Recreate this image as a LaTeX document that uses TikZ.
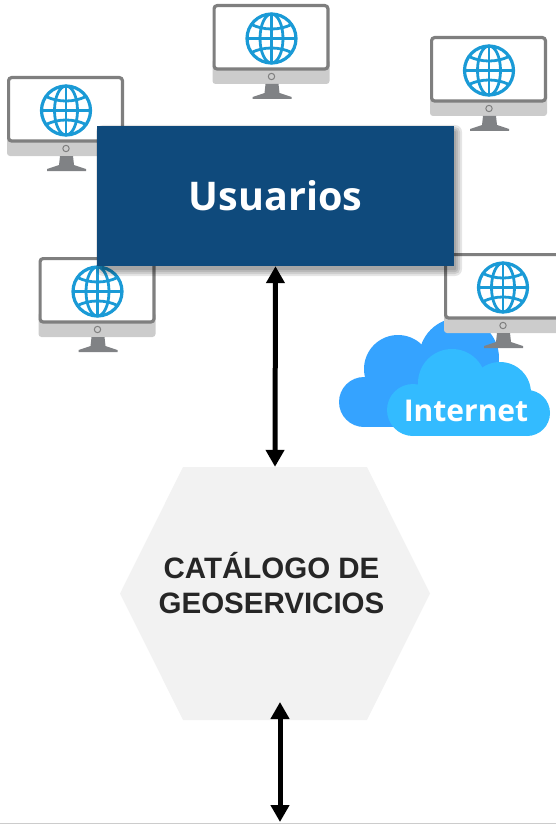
\documentclass[tikz,border=0pt]{standalone}
\usepackage{fontspec}
\setmainfont{Liberation Sans}
\newfontfamily\boxfont{Open Sans}
\usetikzlibrary{arrows.meta,shapes.symbols}
\definecolor{boxblue}{HTML}{0F4A7C}
\definecolor{globeblue}{HTML}{1A9AD6}
\definecolor{cloudback}{HTML}{35A3FF}
\definecolor{cloudfront}{HTML}{33BBFF}
\definecolor{hexgray}{HTML}{F2F2F2}
\definecolor{framegray}{HTML}{7F7F7F}
\definecolor{chingray}{HTML}{CCCCCC}
\definecolor{standgray}{HTML}{808285}
\newcommand{\monitor}[2]{
  \begin{scope}[shift={(#1,#2)}]
    \fill[chingray,rounded corners=3pt] (0,55) rectangle (117,80);
    \draw[framegray,line width=3.2pt,fill=white,rounded corners=3pt] (1.6,1.6) rectangle (115.4,65);
    \draw[framegray,line width=1pt] (59,72.5) circle (3.2);
    \fill[standgray] (53,80) -- (66,80) -- (67,89) -- (79,93) -- (79,95) -- (40,95) -- (40,93) -- (52,89) -- cycle;
    \begin{scope}[shift={(59,34.5)},globeblue,line width=2.8pt]
      \draw[line width=3.2pt] (0,0) circle (24.5);
      \draw (0,0) ellipse (11.5 and 24.5);
      \draw (0,-24.5) -- (0,24.5);
      \draw (-24.5,0) -- (24.5,0);
      \draw (-20,-14) .. controls (-8,-8) and (8,-8) .. (20,-14);
      \draw (-20,14) .. controls (-8,8) and (8,8) .. (20,14);
    \end{scope}
  \end{scope}
}
\tikzset{
  user box/.style={fill=boxblue,minimum width=357pt,minimum height=140pt,inner sep=0pt,
    text=white,font=\boxfont\bfseries\fontsize{39.5}{44}\selectfont},
  hex box/.style={shape=signal,signal to=east and west,signal pointer angle=127,fill=hexgray,
    minimum width=310pt,minimum height=253pt,inner sep=0pt},
  hex label/.style={align=center,text=black!85,inner sep=0pt,font=\bfseries\fontsize{29.5}{35}\selectfont},
  cloud label/.style={text=white,inner sep=0pt,font=\boxfont\bfseries\fontsize{30}{36}\selectfont},
  link/.style={{Triangle[length=17pt,width=18pt]}-{Triangle[length=17pt,width=18pt]},line width=5pt,black},
}
\begin{document}
\begin{tikzpicture}[x=1pt,y=-1pt]
  \useasboundingbox (0,0) rectangle (556,824);
  \draw[chingray,line width=1pt] (0,823.5) -- (556,823.5);

  % back cloud
  \fill[cloudback] (364,402) circle (25);
  \fill[cloudback] (398,369) circle (34);
  \fill[cloudback] (459,358) circle (40);
  \fill[cloudback] (364,390) rectangle (470,427);
  % front cloud
  \fill[cloudfront] (413,410) circle (26);
  \fill[cloudfront] (452,383) circle (34);
  \fill[cloudfront] (500,393) circle (31);
  \fill[cloudfront] (527,413) circle (23);
  \fill[cloudfront] (413,400) rectangle (527,436);
  \node[cloud label] (internet) at (466,411) {Internet};

  \monitor{7}{76}
  \monitor{212.5}{4}
  \monitor{430}{36}
  \monitor{38.5}{257}
  \monitor{444}{253}

  % soft shadow of the box
  \foreach \r in {7,5,3,1}
    \fill[black,opacity=.1,rounded corners=\r pt] (103-\r,132-\r) rectangle (455+\r,269+\r);
  \node[user box] (usuarios) at (275.5,196) {Usuarios};
  \node[hex box] (catalogo) at (275,593.5) {};
  \node[hex label] (catalogotext) at (271.5,583.5) {CATÁLOGO DE\\GEOSERVICIOS};

  \coordinate (linktop) at (280,702);
  \coordinate (linkbottom) at (280,822);
  \draw[link] (usuarios.south) -- (catalogo.north);
  \draw[link] (linktop) -- (linkbottom);
\end{tikzpicture}
\end{document}
